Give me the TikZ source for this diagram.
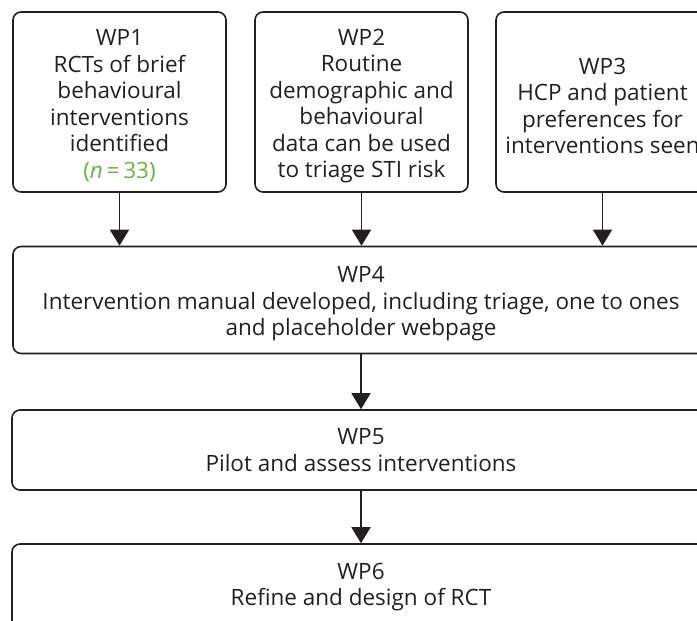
\documentclass[tikz,border=0pt]{standalone}
\usepackage{fontspec}
\setmainfont{Open Sans}
\usetikzlibrary{arrows.meta}
\definecolor{ink}{RGB}{35,31,32}
\definecolor{nGreen}{RGB}{104,178,66}
\newcommand{\topgap}{\rule{0pt}{24pt}}
\begin{document}
\begin{tikzpicture}[x=1pt,y=-1pt,
  box/.style={draw=ink, line width=1.6pt, rounded corners=8pt, inner sep=0pt,
    align=center, text=ink, font=\fontsize{22.5}{26.5}\selectfont},
  arr/.style={draw=ink, line width=1.6pt, -{Triangle[width=19pt,length=16pt]}}]
\useasboundingbox (0,0) rectangle (697,621);
\clip (0,0) rectangle (697,621);
\node[box, minimum width=213pt, minimum height=180pt] (wp1) at (119.5,102)
  {\topgap WP1\\RCTs of brief\\behavioural\\interventions\\identified\\\textcolor{nGreen}{(\textit{n}\,=\,33)}};
\node[box, minimum width=213pt, minimum height=180pt] (wp2) at (361.5,102)
  {\topgap WP2\\Routine\\demographic and\\behavioural\\data can be used\\to triage STI risk};
\node[box, minimum width=213pt, minimum height=180pt] (wp3) at (602.5,102)
  {\topgap WP3\\HCP and patient\\preferences for\\interventions seen};
\node[box, minimum width=696pt, minimum height=107pt] (wp4) at (361,300)
  {\topgap WP4\\Intervention manual developed, including triage, one to ones\\and placeholder webpage};
\node[box, minimum width=698pt, minimum height=80pt] (wp5) at (361,450)
  {WP5\\Pilot and assess interventions};
\node[box, minimum width=698pt, minimum height=92pt] (wp6) at (361,590) {};
\node[text=ink, align=center, font=\fontsize{22.5}{26.5}\selectfont] (wp6t) at (361,587) {WP6\\Refine and design of RCT};
\draw[arr] (wp1.south) -- (wp1.south |- wp4.north);
\draw[arr] (wp2.south) -- (wp2.south |- wp4.north);
\draw[arr] (wp3.south) -- (wp3.south |- wp4.north);
\draw[arr] (wp4.south) -- (wp5.north);
\draw[arr] (wp5.south) -- (wp6.north);
\end{tikzpicture}
\end{document}
